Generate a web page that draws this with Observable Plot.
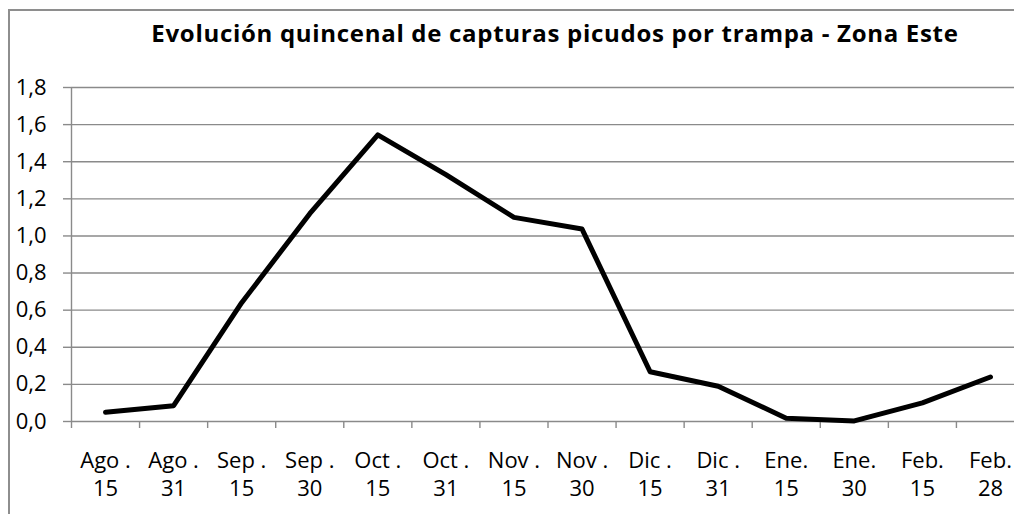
<!DOCTYPE html>
<html><head><meta charset="utf-8">
<script src="https://cdn.jsdelivr.net/npm/d3@7"></script>
<script src="https://cdn.jsdelivr.net/npm/@observablehq/plot@0.6"></script>
<style>
body{margin:0;background:#fff;font-family:"Open Sans",sans-serif;}
#wrap{position:relative;width:1014px;height:514px;overflow:hidden;}
#frame{position:absolute;left:8px;top:9px;width:1200px;height:700px;border:2px solid #8e8e8e;box-sizing:border-box;}
#title{position:relative;height:62px;line-height:50px;padding-top:8px;box-sizing:border-box;padding-left:96px;text-align:center;font-weight:bold;font-size:24px;letter-spacing:0.7px;color:#000;white-space:nowrap;}
#chart{position:relative;}
</style></head>
<body>
<div id="wrap"><div id="frame"></div>
<div id="title">Evolución quincenal de capturas picudos por trampa - Zona Este</div>
<div id="chart"></div></div>
<script>
const months = ["Ago .","Ago .","Sep .","Sep .","Oct .","Oct .","Nov .","Nov .","Dic .","Dic .","Ene.","Ene.","Feb.","Feb."];
const days = ["15","31","15","30","15","31","15","30","15","31","15","30","15","28"];
const values = [0.05,0.085,0.64,1.12,1.545,1.33,1.10,1.037,0.268,0.19,0.018,0.003,0.10,0.24];
const yTicks = [0,0.2,0.4,0.6,0.8,1.0,1.2,1.4,1.6,1.8];

const data = values.map((v,i)=>({i, v}));
const n = months.length;
const edges = d3.range(-0.5, n, 1);
const fmt = d => d.toFixed(1).replace(".", ",");
const grid = "#8a8a8a";

const chart = Plot.plot({
  width: 1014, height: 452,
  marginTop: 25, marginBottom: 93, marginLeft: 71, marginRight: 0,
  style: {fontFamily: "'Open Sans', sans-serif", fontSize: "22px", color: "#000", background: "transparent"},
  x: {type: "linear", domain: [-0.5, n - 0.5], range: [71, 1024]},
  y: {domain: [0, 1.8]},
  marks: [
    Plot.ruleY(yTicks.filter(d => d > 0), {stroke: grid, strokeWidth: 1.4}),
    Plot.ruleY([0], {stroke: grid, strokeWidth: 1.4}),
    Plot.ruleX([-0.5], {stroke: grid, strokeWidth: 1.4}),
    Plot.axisY(yTicks, {tickSize: 8, tickFormat: () => "", stroke: grid, strokeWidth: 1.4, label: null}),
    Plot.axisY(yTicks, {tickSize: 0, tickPadding: 25, tickFormat: fmt, fontSize: 22, fill: "#000", label: null}),
    Plot.axisX(edges, {tickSize: 7, tickFormat: () => "", stroke: grid, strokeWidth: 1.4, label: null}),
    Plot.axisX(d3.range(n), {tickSize: 0, tickPadding: 27, tickFormat: i => months[i] + "\n" + days[i], fontSize: 22, lineHeight: 1.27, fill: "#000", label: null}),
    Plot.line(data, {x: "i", y: "v", stroke: "#000", strokeWidth: 5, strokeLinejoin: "round", strokeLinecap: "round"})
  ]
});
document.getElementById("chart").appendChild(chart);
</script>
</body></html>
